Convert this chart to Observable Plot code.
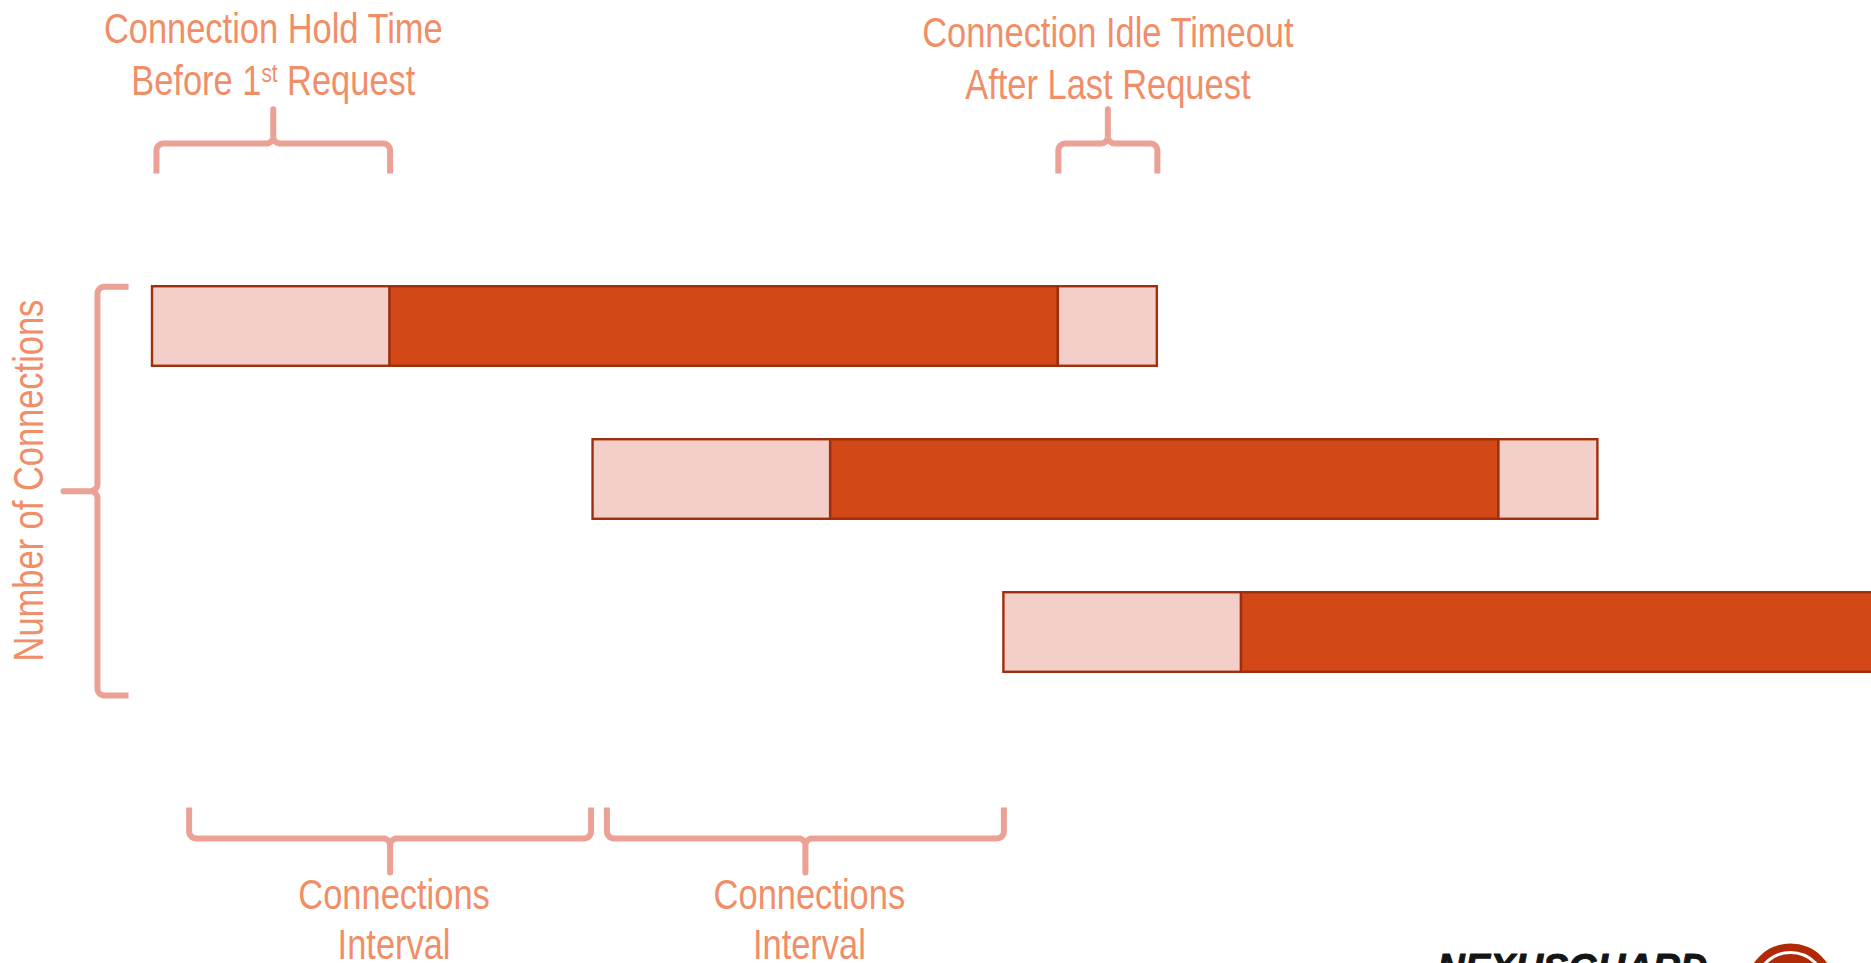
<!DOCTYPE html>
<html>
<head>
<meta charset="utf-8">
<script src="https://cdn.jsdelivr.net/npm/d3@7"></script>
<script src="https://cdn.jsdelivr.net/npm/@observablehq/plot@0.6"></script>
<style>
  html, body { margin: 0; padding: 0; background: #ffffff; overflow: hidden; }
</style>
</head>
<body>
<div id="chart"></div>
<script>
// ---------------- data ----------------
const connections = [1, 2, 3];                       // row of each connection
const connectionStart = [0, 4.45, 8.6];              // time each connection opens
const phases = ["hold", "active", "idle"];           // phases of a connection
const phaseDuration = [2.4, 6.75, 1.0];              // hold before 1st request, requests, idle timeout
const topLabels = [
  ["Connection Hold Time", "Before 1st Request"],
  ["Connection Idle Timeout", "After Last Request"]
];
const bottomLabels = ["Connections", "Interval"];
const axisLabel = "Number of Connections";
const logoText = "NEXUSGUARD";
const intervalBraceWidth = 4.08;                     // width of the "connections interval" braces

// ---------------- styles ----------------
const FONT = "'Liberation Sans', Arial, sans-serif";
const NARROW = 0.82;                                 // horizontal condensing of label text
const TEXT_COLOR = "#F08E68";
const BRACE_COLOR = "#EBA195";
const LIGHT_FILL = "#F4CFC9";
const DARK_FILL = "#D24817";
const BAR_STROKE = "#9E2E0C";
const FS = 42;

// ---------------- scales ----------------
const xOpts = {type: "linear", domain: [0, 10], range: [152, 1142]};
const yOpts = {type: "linear", domain: [1, 3], range: [326, 632]};
const sx = Plot.scale({x: xOpts});
const sy = Plot.scale({y: yOpts});

// ---------------- derived tables ----------------
const segments = [];
connections.forEach((c, i) => {
  let t = connectionStart[i];
  phases.forEach((p, j) => {
    segments.push({connection: c, phase: p, x1: t, x2: t + phaseDuration[j]});
    t += phaseDuration[j];
  });
});
const barHalf = 0.26;

const holdSpan = [connectionStart[0] + 0.04, connectionStart[0] + phaseDuration[0]];
const idleStart = connectionStart[0] + phaseDuration[0] + phaseDuration[1];
const idleSpan = [idleStart, idleStart + phaseDuration[2]];
const intervalSpans = connectionStart.slice(1).map((s, i) =>
  [s - intervalBraceWidth + (i === 0 ? 0 : 0.07), s - (i === 0 ? 0.02 : 0)]);

// curly brace generator (span in data units, levels in data units, radius in px)
function bracePoints(id, orient, a, b, level, endLevel, tipLevel, r) {
  const isH = orient === "h";
  const S = isH ? sx : sy, P = isH ? sy : sx;
  const p1 = S.apply(a), p2 = S.apply(b), L = p2 - p1, m = L / 2;
  const ph = P.apply(level), pe = P.apply(endLevel), pt = P.apply(tipLevel);
  const sgn = Math.sign(pe - ph);
  const A = Math.abs(pe - ph), T = Math.abs(pt - ph);
  const local = [];
  const arc = (cu, cw, t0, t1) => {
    for (let k = 0; k <= 10; k++) {
      const t = t0 + (t1 - t0) * k / 10;
      local.push([cu + r * Math.cos(t), cw + r * Math.sin(t)]);
    }
  };
  local.push([0, A]);
  arc(r, r, Math.PI, 1.5 * Math.PI);
  arc(m - r, -r, 0.5 * Math.PI, 0);
  local.push([m, -T]);
  arc(m + r, -r, Math.PI, 0.5 * Math.PI);
  arc(L - r, r, 1.5 * Math.PI, 2 * Math.PI);
  local.push([L, A]);
  return local.map(([u, w]) => {
    const along = S.invert(p1 + u), across = P.invert(ph + sgn * w);
    return isH ? {id, x: along, y: across} : {id, x: across, y: along};
  });
}

const braces = [
  ...bracePoints("hold", "h", holdSpan[0], holdSpan[1], -0.196, 0.0, -0.42, 7),
  ...bracePoints("idle", "h", idleSpan[0], idleSpan[1], -0.196, 0.0, -0.42, 7),
  ...bracePoints("rows", "v", connections[0] - barHalf, 3.412, -0.556, -0.242, -0.899, 7),
  ...intervalSpans.flatMap((s, i) => bracePoints("int" + i, "h", s[0], s[1], 4.346, 4.144, 4.569, 7))
];

const titleRows = [];
[holdSpan, idleSpan].forEach((span, i) => {
  const cx = (span[0] + span[1]) / 2;
  const shift = i === 0 ? 0 : 0.026;
  titleRows.push({text: topLabels[i][0], x: cx, y: -0.85 + shift});
  titleRows.push({text: topLabels[i][1], x: cx, y: -0.516 + shift});
});
const bottomRows = intervalSpans.flatMap(s => {
  const cx = (s[0] + s[1]) / 2 + 0.04;
  return [{text: bottomLabels[0], x: cx, y: 4.804}, {text: bottomLabels[1], x: cx, y: 5.131}];
});

// ---------------- plot ----------------
const chart = Plot.plot({
  width: 1871,
  height: 963,
  margin: 0,
  x: {...xOpts, axis: null},
  y: {...yOpts, axis: null},
  style: {background: "#ffffff", overflow: "hidden"},
  marks: [
    Plot.rect(segments, {
      x1: "x1", x2: "x2",
      y1: d => d.connection - barHalf, y2: d => d.connection + barHalf,
      fill: d => d.phase === "active" ? DARK_FILL : LIGHT_FILL,
      stroke: BAR_STROKE, strokeWidth: 2.4, clip: true
    }),
    Plot.line(braces, {x: "x", y: "y", z: "id", stroke: BRACE_COLOR, strokeWidth: 6,
      strokeLinejoin: "round", strokeLinecap: "butt", curve: "linear"}),
    Plot.text(titleRows, {x: "x", y: "y", text: "text", fill: TEXT_COLOR, fontSize: FS,
      fontFamily: FONT, textAnchor: "middle", lineAnchor: "bottom"}),
    Plot.text(bottomRows, {x: "x", y: "y", text: "text", fill: TEXT_COLOR, fontSize: FS,
      fontFamily: FONT, textAnchor: "middle", lineAnchor: "bottom"}),
    Plot.text([axisLabel], {x: -1.242, y: 2.007, text: d => d, rotate: -90, fill: TEXT_COLOR,
      fontSize: FS, fontFamily: FONT, textAnchor: "middle", lineAnchor: "middle"}),
    Plot.text([logoText], {frameAnchor: "bottom-right", text: d => d, dx: -164, dy: 17,
      textAnchor: "end", lineAnchor: "bottom", fontSize: 38, fontWeight: 900, fontStyle: "italic",
      fontFamily: "'Liberation Sans', Arial, sans-serif", fill: "#151515",
      stroke: "#151515", strokeWidth: 1}),
    Plot.dot([0], {frameAnchor: "bottom-right", dx: -81, dy: 24, r: 44, fill: "#B02A08"}),
    Plot.dot([0], {frameAnchor: "bottom-right", dx: -81, dy: 24, r: 35, fill: "none",
      stroke: "#ffffff", strokeWidth: 3})
  ]
});

const ns = "http://www.w3.org/2000/svg";
const labelSet = new Set([...topLabels.flat(), ...bottomLabels, axisLabel]);

// superscript "st" in "Before 1st Request"
chart.querySelectorAll("text").forEach(t => {
  if (t.textContent === topLabels[0][1]) {
    const idx = t.textContent.indexOf("1st") + 1;
    const before = t.textContent.slice(0, idx);
    const after = t.textContent.slice(idx + 2);
    t.textContent = "";
    t.appendChild(document.createTextNode(before));
    const s = document.createElementNS(ns, "tspan");
    s.setAttribute("font-size", FS * 0.6);
    s.setAttribute("dy", -FS * 0.3);
    s.textContent = "st";
    t.appendChild(s);
    const r = document.createElementNS(ns, "tspan");
    r.setAttribute("dy", FS * 0.3);
    r.textContent = after;
    t.appendChild(r);
  }
});

document.getElementById("chart").appendChild(chart);

// condense the label texts (narrow face look)
chart.querySelectorAll("text").forEach(t => {
  if (labelSet.has(t.textContent)) {
    const w = t.getComputedTextLength();
    t.setAttribute("textLength", (w * NARROW).toFixed(1));
    t.setAttribute("lengthAdjust", "spacingAndGlyphs");
  }
});
</script>
</body>
</html>
